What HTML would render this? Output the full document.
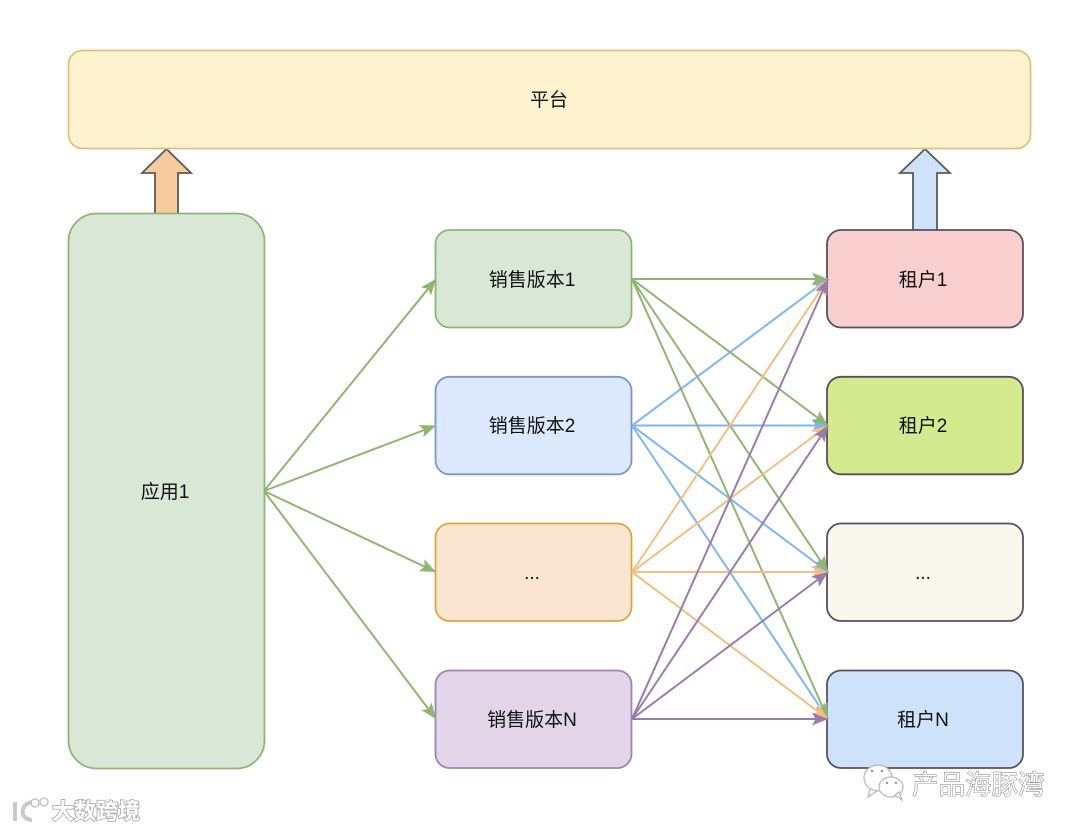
<!DOCTYPE html>
<html>
<head>
<meta charset="utf-8">
<style>
html,body{margin:0;padding:0;background:#fff;}
svg{display:block;filter:blur(0.35px);}
text{font-family:"Liberation Sans","Noto Sans CJK SC",sans-serif;font-size:19px;fill:#111;text-anchor:middle;}
.wm{font-size:26.500px;fill:#fff;stroke:#777;stroke-width:.9px;paint-order:stroke;text-anchor:start;}
.wm2{font-size:22px;fill:#fff;stroke:#b0b0b0;stroke-width:1.800px;paint-order:stroke;text-anchor:start;font-weight:bold;}
</style>
</head>
<body>
<svg width="1080" height="831" viewBox="0 0 1080 831" xmlns="http://www.w3.org/2000/svg">
<defs>
<marker id="g" markerUnits="userSpaceOnUse" markerWidth="20" markerHeight="16" refX="17" refY="8" orient="auto"><path d="M1 1.500 L17 8 L1 14.500 L4.500 8 Z" fill="#8fb573"/></marker>
<marker id="b" markerUnits="userSpaceOnUse" markerWidth="20" markerHeight="16" refX="17" refY="8" orient="auto"><path d="M1 1.500 L17 8 L1 14.500 L4.500 8 Z" fill="#7fb6ee"/></marker>
<marker id="o" markerUnits="userSpaceOnUse" markerWidth="20" markerHeight="16" refX="17" refY="8" orient="auto"><path d="M1 1.500 L17 8 L1 14.500 L4.500 8 Z" fill="#f3bd84"/></marker>
<marker id="p" markerUnits="userSpaceOnUse" markerWidth="20" markerHeight="16" refX="17" refY="8" orient="auto"><path d="M1 1.500 L17 8 L1 14.500 L4.500 8 Z" fill="#9a7cab"/></marker>
</defs>

<!-- block arrows -->
<path d="M155 214 V173 H142 L166.500 149 L191 173 H178 V214" fill="#f8cb9c" stroke="#5a5a5a" stroke-width="1.800"/>
<path d="M913 231 V173 H900 L925 149 L950 173 H937 V231" fill="#cfe2fb" stroke="#5a5a5a" stroke-width="1.800"/>

<!-- nodes -->
<rect x="68.500" y="50.500" width="962" height="98" rx="14" fill="#fff2cf" stroke="#dcc27c" stroke-width="1.800"/>
<rect x="68.500" y="213.500" width="196" height="555" rx="28" fill="#d8e7d6" stroke="#8fb573" stroke-width="1.800"/>
<rect x="435.500" y="230" width="196" height="97.500" rx="14" fill="#d8e7d6" stroke="#8fb573" stroke-width="1.800"/>
<rect x="435.500" y="376.800" width="196" height="97.500" rx="14" fill="#dce8fb" stroke="#7a97c6" stroke-width="1.800"/>
<rect x="435.500" y="523.500" width="196" height="97.500" rx="14" fill="#fae6d0" stroke="#dca63e" stroke-width="1.800"/>
<rect x="435.500" y="670.500" width="196" height="97.500" rx="14" fill="#e1d5e7" stroke="#a084b0" stroke-width="1.800"/>
<rect x="827" y="230" width="196" height="97.500" rx="14" fill="#f8cecf" stroke="#57505a" stroke-width="1.800"/>
<rect x="827" y="376.800" width="196" height="97.500" rx="14" fill="#d5e98f" stroke="#57505a" stroke-width="1.800"/>
<rect x="827" y="523.500" width="196" height="97.500" rx="14" fill="#f9f7ee" stroke="#57505a" stroke-width="1.800"/>
<rect x="827" y="670.500" width="196" height="97.500" rx="14" fill="#cfe2fb" stroke="#57505a" stroke-width="1.800"/>

<!-- app to versions -->
<g stroke="#8fb573" stroke-width="2" fill="none">
<line x1="264" y1="491" x2="436" y2="279" marker-end="url(#g)"/>
<line x1="264" y1="491" x2="436" y2="425.500" marker-end="url(#g)"/>
<line x1="264" y1="491" x2="436" y2="572" marker-end="url(#g)"/>
<line x1="264" y1="491" x2="436" y2="719" marker-end="url(#g)"/>
</g>

<!-- blue -->
<g stroke="#7fb6ee" stroke-width="2" fill="none">
<line x1="632" y1="425.500" x2="828" y2="279" marker-end="url(#b)"/>
<line x1="632" y1="425.500" x2="828" y2="425.500" marker-end="url(#b)"/>
<line x1="632" y1="425.500" x2="828" y2="572" marker-end="url(#b)"/>
<line x1="632" y1="425.500" x2="828" y2="719" marker-end="url(#b)"/>
</g>
<!-- green -->
<g stroke="#8fb573" stroke-width="2" fill="none">
<line x1="632" y1="279" x2="828" y2="279" marker-end="url(#g)"/>
<line x1="632" y1="279" x2="828" y2="425.500" marker-end="url(#g)"/>
<line x1="632" y1="279" x2="828" y2="572" marker-end="url(#g)"/>
<line x1="632" y1="279" x2="828" y2="719" marker-end="url(#g)"/>
</g>
<!-- orange -->
<g stroke="#f3bd84" stroke-width="2" fill="none">
<line x1="632" y1="572" x2="828" y2="279" marker-end="url(#o)"/>
<line x1="632" y1="572" x2="828" y2="425.500" marker-end="url(#o)"/>
<line x1="632" y1="572" x2="828" y2="572" marker-end="url(#o)"/>
<line x1="632" y1="572" x2="828" y2="719" marker-end="url(#o)"/>
</g>
<!-- purple -->
<g stroke="#9a7cab" stroke-width="2" fill="none">
<line x1="632" y1="719" x2="828" y2="279" marker-end="url(#p)"/>
<line x1="632" y1="719" x2="828" y2="425.500" marker-end="url(#p)"/>
<line x1="632" y1="719" x2="828" y2="572" marker-end="url(#p)"/>
<line x1="632" y1="719" x2="828" y2="719" marker-end="url(#p)"/>
</g>

<!-- labels -->
<text x="549" y="106">平台</text>
<text x="165" y="498">应用1</text>
<text x="532" y="286">销售版本1</text>
<text x="532" y="432">销售版本2</text>
<text x="532" y="579">...</text>
<text x="532" y="726">销售版本N</text>
<text x="923" y="286">租户1</text>
<text x="923" y="432">租户2</text>
<text x="923" y="579">...</text>
<text x="923" y="726">租户N</text>

<!-- watermark right -->
<g fill="#fff" stroke="#b5b5b5" stroke-width="1.200">
<ellipse cx="878" cy="778" rx="14" ry="13"/>
<path d="M870 789 L868 797 L877 791 Z"/>
<ellipse cx="891" cy="787" rx="12" ry="10"/>
<path d="M895 795 L902 800 L899 792 Z"/>
</g>
<g fill="#999"><circle cx="872" cy="771" r="1.300"/><circle cx="882" cy="771" r="1.300"/><circle cx="887" cy="783" r="1.200"/><circle cx="896" cy="783" r="1.200"/></g>
<text class="wm" x="912" y="794">产品海豚湾</text>

<!-- watermark left -->
<g fill="none" stroke="#c9c9c9" stroke-width="4">
<path d="M15 802 V821"/>
<path d="M32 802 C20 804 19 819 32 820"/>
</g>
<g fill="none" stroke="#c4c4c4" stroke-width="1.500">
<circle cx="35" cy="803" r="4"/><circle cx="44" cy="802" r="4"/>
</g>
<text class="wm2" x="52" y="819">大数跨境</text>
</svg>
</body>
</html>
